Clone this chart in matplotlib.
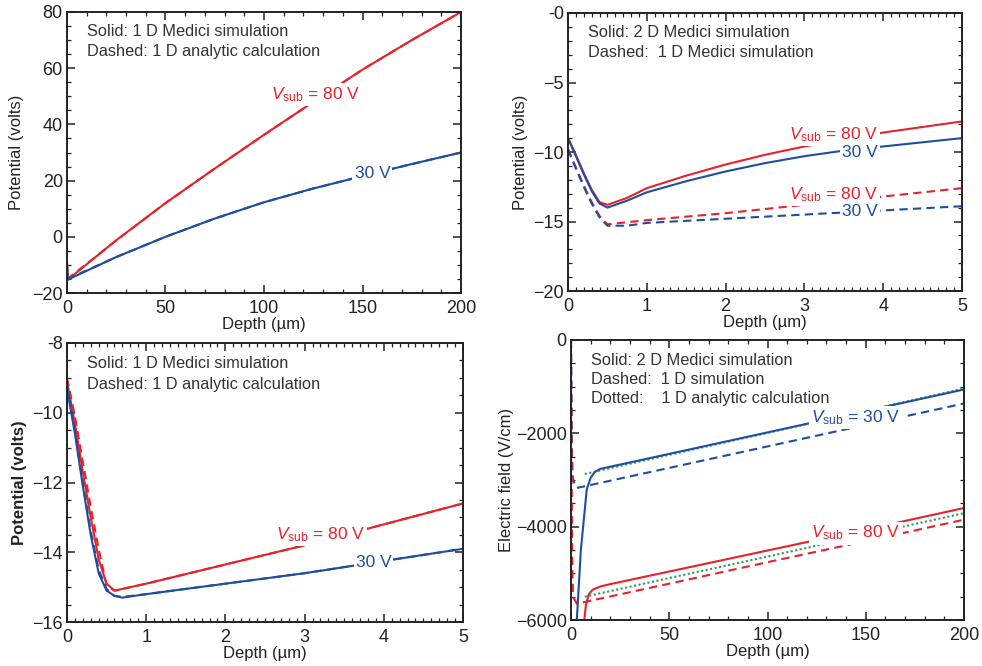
import matplotlib
matplotlib.use("Agg")
import matplotlib.pyplot as plt
from matplotlib.ticker import FixedLocator, FixedFormatter, MultipleLocator

plt.rcParams["font.family"] = ["Liberation Sans", "DejaVu Sans"]
plt.rcParams["mathtext.fontset"] = "custom"
plt.rcParams["mathtext.rm"] = "Liberation Sans"
plt.rcParams["mathtext.it"] = "Liberation Sans:italic"

RED = "#e8222b"
BLUE = "#1f4e9e"
GREEN = "#2f9a5a"

# ---------------------------------------------------------------------------
# Top-left: 1D potential, 0-200 um
# ---------------------------------------------------------------------------
tl_depth = [0, 0.5, 25, 50, 75, 100, 125, 150, 175, 200]
tl_sim_80 = [-9, -15.2, -1.2, 12, 24.3, 36.3, 48, 59.5, 70, 80]
tl_sim_30 = [-9, -15.2, -7.2, 0, 6.5, 12.3, 17.2, 21.6, 25.9, 30]
tl_ana_depth = [0, 25, 50, 75, 100, 125, 150, 175, 200]
tl_ana_80 = [-15.1, -1.3, 12, 24.3, 36.3, 48, 59.5, 70, 80]
tl_ana_30 = [-15.1, -7.2, 0, 6.5, 12.3, 17.2, 21.6, 25.9, 30]

# ---------------------------------------------------------------------------
# Top-right: 2D vs 1D Medici potential, 0-5 um
# ---------------------------------------------------------------------------
tr_depth = [0, 0.1, 0.2, 0.3, 0.4, 0.5, 0.75, 1, 1.5, 2, 2.5, 3, 3.5, 4, 4.5, 5]
tr_2d_80 = [-9, -10.2, -11.5, -12.7, -13.6, -13.8, -13.3, -12.6, -11.7, -10.9,
            -10.2, -9.6, -9.1, -8.6, -8.2, -7.8]
tr_2d_30 = [-9, -10.3, -11.6, -12.8, -13.7, -14.0, -13.5, -12.9, -12.1, -11.4,
            -10.8, -10.3, -9.9, -9.6, -9.3, -9.0]
tr_1d_80 = [-9.8, -11.1, -12.4, -13.6, -14.6, -15.2, -15.05, -14.9, -14.65, -14.4,
            -14.1, -13.8, -13.5, -13.2, -12.9, -12.6]
tr_1d_30 = [-9.8, -11.2, -12.5, -13.7, -14.7, -15.3, -15.3, -15.1, -14.95, -14.8,
            -14.65, -14.5, -14.35, -14.2, -14.05, -13.9]

# ---------------------------------------------------------------------------
# Bottom-left: 1D Medici vs analytic potential, 0-5 um
# ---------------------------------------------------------------------------
bl_depth = [0, 0.1, 0.2, 0.3, 0.4, 0.5, 0.6, 0.7, 1, 2, 3, 4, 5]
bl_sim_30 = [-9.3, -10.6, -12.1, -13.5, -14.6, -15.1, -15.25, -15.3, -15.2,
             -14.9, -14.6, -14.25, -13.9]
bl_ana_30 = [-9.2, -10.5, -12.0, -13.4, -14.5, -15.05, -15.25, -15.28, -15.2,
             -14.9, -14.6, -14.25, -13.9]
bl_sim_80 = [-9.1, -10.3, -11.7, -13.0, -14.2, -14.9, -15.1, -15.05, -14.9,
             -14.35, -13.8, -13.2, -12.6]
bl_ana_80 = [-9.0, -10.1, -11.4, -12.7, -13.9, -14.95, -15.1, -15.05, -14.9,
             -14.35, -13.8, -13.2, -12.6]

# ---------------------------------------------------------------------------
# Bottom-right: electric field, 0-200 um
# ---------------------------------------------------------------------------
br_2d_30_depth = [2.8, 5, 8, 10, 12, 15, 50, 100, 150, 200]
br_2d_30 = [-6100, -4500, -3200, -2950, -2830, -2760, -2440, -1980, -1520, -1060]
br_1d_30_depth = [0, 0.5, 1, 3, 50, 100, 150, 200]
br_1d_30 = [0, -2500, -3000, -3170, -2740, -2280, -1820, -1360]
br_an_30_depth = [7, 50, 100, 150, 200]
br_an_30 = [-2870, -2460, -1990, -1515, -1040]

br_2d_80_depth = [6.5, 7.5, 9, 11, 15, 20, 50, 100, 150, 200]
br_2d_80 = [-6100, -5700, -5450, -5350, -5280, -5230, -4960, -4510, -4060, -3600]
br_1d_80_depth = [0, 0.5, 1, 3, 50, 100, 150, 200]
br_1d_80 = [0, -4500, -5500, -5650, -5220, -4760, -4310, -3850]
br_an_80_depth = [7, 50, 100, 150, 200]
br_an_80 = [-5500, -5100, -4640, -4175, -3710]

DASH = (0, (4, 2.5))
DOT = (0, (1, 1.2))
LW = 1.5
TICK_FS = 13
LABEL_FS = 12
NOTE_FS = 11.8
CURVE_FS = 12.5


def style_axes(ax, xlim, ylim, xticks, xlabels, yticks, ylabels, xminor, yminor):
    ax.set_xlim(*xlim)
    ax.set_ylim(*ylim)
    ax.xaxis.set_major_locator(FixedLocator(xticks))
    ax.xaxis.set_major_formatter(FixedFormatter(xlabels))
    ax.yaxis.set_major_locator(FixedLocator(yticks))
    ax.yaxis.set_major_formatter(FixedFormatter(ylabels))
    ax.xaxis.set_minor_locator(MultipleLocator(xminor))
    ax.yaxis.set_minor_locator(MultipleLocator(yminor))
    ax.tick_params(which="both", direction="in", top=True, right=True,
                   labelsize=TICK_FS, color="#222222", labelcolor="#222222")
    ax.tick_params(axis="x", pad=5)
    ax.tick_params(axis="y", pad=3)
    ax.tick_params(which="major", length=6, width=1.1)
    ax.tick_params(which="minor", length=3, width=0.9)
    for s in ax.spines.values():
        s.set_linewidth(1.4)
        s.set_color("#222222")
    ax.set_xlabel("Depth (\u00b5m)", fontsize=LABEL_FS, labelpad=0, color="#222222")


def curve_label(ax, x, y, text, color, ha="center"):
    ax.text(x, y, text, color=color, fontsize=CURVE_FS, ha=ha, va="center",
            bbox=dict(fc="white", ec="none", pad=1.5), zorder=5)


def notes(ax, lines, y0=0.93, dy=0.072):
    for i, t in enumerate(lines):
        ax.text(0.05, y0 - i * dy, t, transform=ax.transAxes, fontsize=NOTE_FS,
                color="#333333", ha="left", va="center")


fig = plt.figure(figsize=(9.82, 6.66), dpi=100)

# Top-left
ax = fig.add_axes([0.0682, 0.560, 0.4013, 0.422])
ax.plot(tl_depth, tl_sim_80, color=RED, lw=LW)
ax.plot(tl_depth, tl_sim_30, color=BLUE, lw=LW)
ax.plot(tl_ana_depth, tl_ana_80, color=RED, lw=LW, ls=DASH)
ax.plot(tl_ana_depth, tl_ana_30, color=BLUE, lw=LW, ls=DASH)
style_axes(ax, (0, 200), (-20, 80), [0, 50, 100, 150, 200],
           ["0", "50", "100", "150", "200"], [-20, 0, 20, 40, 60, 80],
           ["\u221220", "0", "20", "40", "60", "80"], 10, 5)
ax.set_ylabel("Potential (volts)", fontsize=LABEL_FS, labelpad=6, color="#222222")
notes(ax, ["Solid: 1 D Medici simulation", "Dashed: 1 D analytic calculation"])
curve_label(ax, 126, 50.5, r"$V_{\rm sub}$ = 80 V", RED)
curve_label(ax, 155, 22.7, "30 V", BLUE)

# Top-right
ax = fig.add_axes([0.5784, 0.563, 0.4012, 0.4175])
ax.plot(tr_depth, tr_2d_80, color=RED, lw=LW)
ax.plot(tr_depth, tr_2d_30, color=BLUE, lw=LW)
ax.plot(tr_depth, tr_1d_80, color=RED, lw=LW, ls=DASH)
ax.plot(tr_depth, tr_1d_30, color=BLUE, lw=LW, ls=DASH)
style_axes(ax, (0, 5), (-20, 0), [0, 1, 2, 3, 4, 5],
           ["0", "1", "2", "3", "4", "5"], [-20, -15, -10, -5, 0],
           ["\u221220", "\u221215", "\u221210", "\u22125", "-0"], 0.1, 1)
ax.set_ylabel("Potential (volts)", fontsize=LABEL_FS, labelpad=4, color="#222222")
notes(ax, ["Solid: 2 D Medici simulation", "Dashed:  1 D Medici simulation"])
curve_label(ax, 3.93, -8.75, r"$V_{\rm sub}$ = 80 V", RED, ha="right")
curve_label(ax, 3.93, -10.05, "30 V", BLUE, ha="right")
curve_label(ax, 3.93, -13.05, r"$V_{\rm sub}$ = 80 V", RED, ha="right")
curve_label(ax, 3.93, -14.3, "30 V", BLUE, ha="right")

# Bottom-left
ax = fig.add_axes([0.0682, 0.066, 0.4033, 0.419])
ax.plot(bl_depth, bl_sim_80, color=RED, lw=LW)
ax.plot(bl_depth, bl_ana_80, color=RED, lw=LW, ls=DASH)
ax.plot(bl_depth, bl_sim_30, color=BLUE, lw=LW)
ax.plot(bl_depth, bl_ana_30, color=BLUE, lw=LW, ls=DASH)
style_axes(ax, (0, 5), (-16, -8), [0, 1, 2, 3, 4, 5],
           ["0", "1", "2", "3", "4", "5"], [-16, -14, -12, -10, -8],
           ["\u221216", "\u221214", "\u221212", "\u221210", "-8"], 0.1, 0.5)
ax.set_ylabel("Potential (volts)", fontsize=LABEL_FS, fontweight="bold",
              labelpad=4, color="#222222")
notes(ax, ["Solid: 1 D Medici simulation", "Dashed: 1 D analytic calculation"],
      y0=0.925)
curve_label(ax, 3.2, -13.5, r"$V_{\rm sub}$ = 80 V", RED)
curve_label(ax, 3.87, -14.3, "30 V", BLUE)

# Bottom-right
ax = fig.add_axes([0.5815, 0.069, 0.4002, 0.4205])
ax.plot(br_1d_30_depth, br_1d_30, color=BLUE, lw=LW, ls=DASH)
ax.plot(br_1d_80_depth, br_1d_80, color=RED, lw=LW, ls=DASH)
ax.plot(br_an_30_depth, br_an_30, color=GREEN, lw=LW, ls=DOT)
ax.plot(br_an_80_depth, br_an_80, color=GREEN, lw=LW, ls=DOT)
ax.plot(br_2d_30_depth, br_2d_30, color=BLUE, lw=LW)
ax.plot(br_2d_80_depth, br_2d_80, color=RED, lw=LW)
style_axes(ax, (0, 200), (-6000, 0), [0, 50, 100, 150, 200],
           ["0", "50", "100", "150", "200"], [-6000, -4000, -2000, 0],
           ["\u22126000", "\u22124000", "\u22122000", "0"], 10, 500)
ax.set_ylabel("Electric field (V/cm)", fontsize=LABEL_FS, labelpad=1, color="#222222")
notes(ax, ["Solid: 2 D Medici simulation", "Dashed:  1 D simulation",
           "Dotted:    1 D analytic calculation"], y0=0.925, dy=0.067)
curve_label(ax, 145, -1668, r"$V_{\rm sub}$ = 30 V", BLUE)
curve_label(ax, 145, -4138, r"$V_{\rm sub}$ = 80 V", RED)

fig.savefig("out.png", dpi=100)
